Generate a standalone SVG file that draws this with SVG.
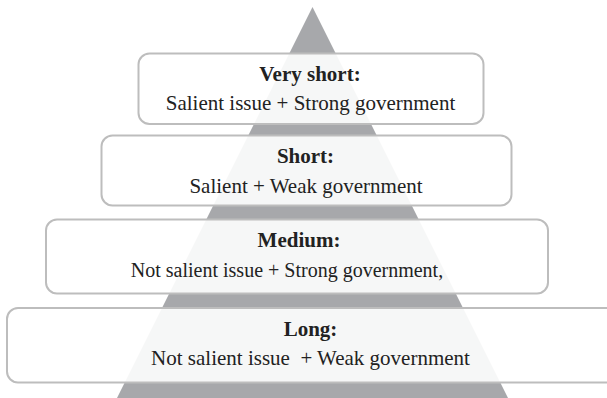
<svg xmlns="http://www.w3.org/2000/svg" width="607" height="398" viewBox="0 0 607 398">
<style>
.box{fill:#ffffff;fill-opacity:0.9;stroke:#bdbdbd;stroke-width:2}
.t{font-family:"Liberation Serif","Times New Roman",serif;font-size:21px;fill:#222;text-anchor:middle}
.b{font-weight:bold;font-size:21px}
</style>
<rect width="607" height="398" fill="#ffffff"/>
<polygon id="pyramid" points="312.5,7 117,398 508,398" fill="#a7a8ab"/>
<g id="connectors"/>
<g id="very-short">
<rect class="box" x="138.5" y="53.5" width="345" height="70.5" rx="11"/>
<text class="t b" x="310" y="81">Very short:</text>
<text class="t" x="310.5" y="110">Salient issue + Strong government</text>
</g>
<g id="short">
<rect class="box" x="101.5" y="135.5" width="410" height="70" rx="11"/>
<text class="t b" x="305.5" y="163">Short:</text>
<text class="t" x="306" y="192.5">Salient + Weak government</text>
</g>
<g id="medium">
<rect class="box" x="46" y="219.5" width="502" height="74" rx="11"/>
<text class="t b" x="299" y="247">Medium:</text>
<text class="t" x="287" y="277" style="font-size:20px">Not salient issue + Strong government,</text>
</g>
<g id="long">
<rect class="box" x="7" y="308" width="610" height="74.5" rx="11"/>
<text class="t b" x="310.5" y="336">Long:</text>
<text class="t" x="310.5" y="364.5" xml:space="preserve">Not salient issue  + Weak government</text>
</g>
</svg>
